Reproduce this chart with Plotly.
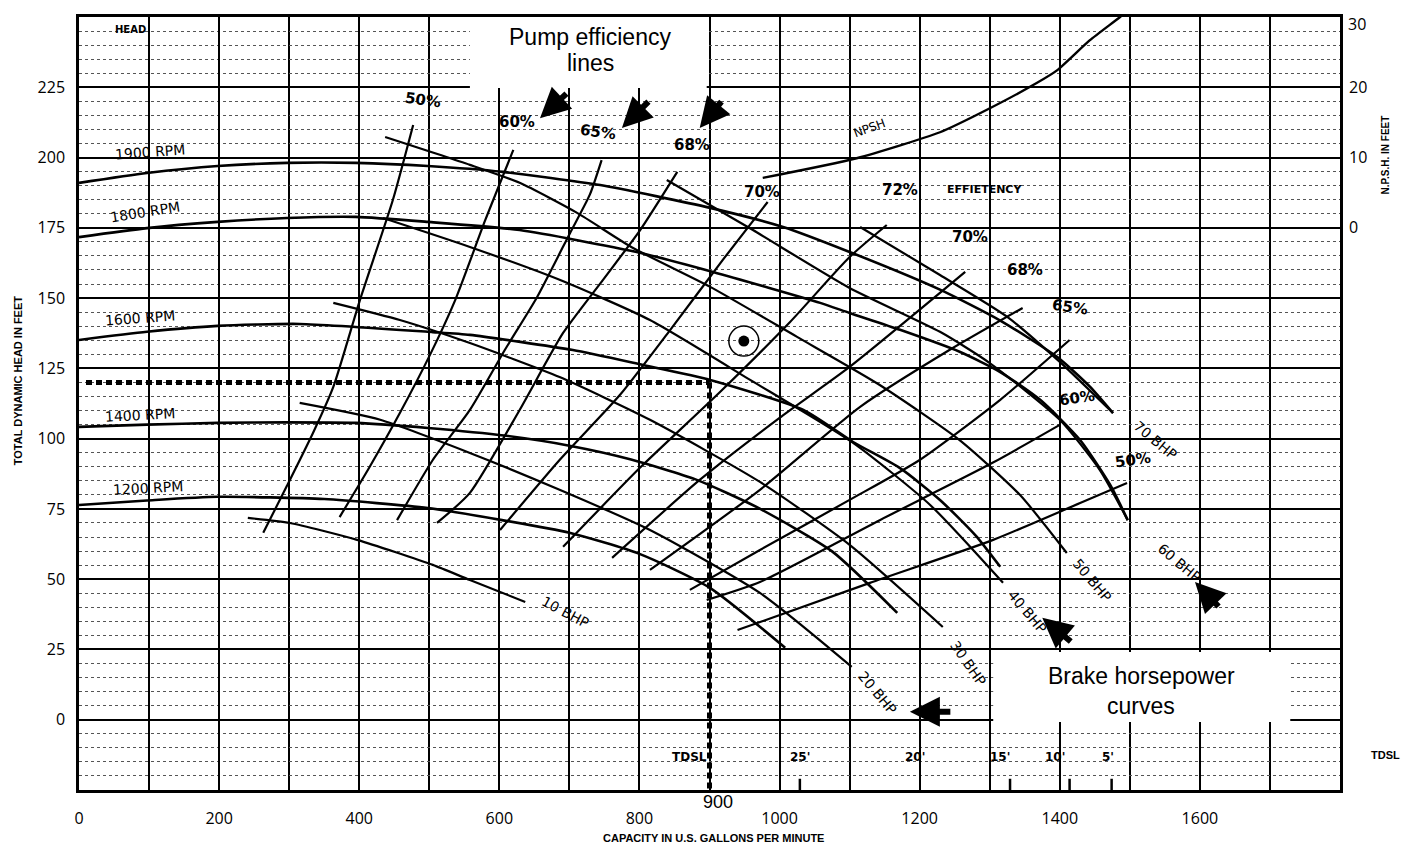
import plotly.graph_objects as go

# ---------------- data (capacity in gpm, head in ft) ----------------
q_1900 = [0, 97, 198, 297, 395, 498, 605, 744, 901, 1005, 1100, 1229, 1315, 1396, 1443, 1476]
h_1900 = [191.0, 194.5, 197.0, 198.1, 198.1, 197.0, 194.9, 190.2, 182.1, 175.3, 166.4, 153.0, 142.0, 129.1, 118.5, 109.1]
q_1800 = [0, 97, 198, 297, 395, 498, 629, 796, 905, 1058, 1100, 1172, 1257, 1315, 1372, 1429, 1472, 1497]
h_1800 = [171.7, 174.9, 177.1, 178.5, 178.9, 177.1, 174.2, 166.4, 159.3, 148.3, 144.7, 138.7, 130.9, 123.7, 113.8, 99.5, 83.5, 71.0]
q_1600 = [0, 97, 198, 315, 505, 558, 705, 805, 901, 1034, 1105, 1172, 1229, 1280, 1315]
h_1600 = [135.1, 138.0, 140.1, 140.8, 137.9, 136.9, 131.5, 126.2, 120.9, 110.2, 98.8, 89.5, 78.2, 65.5, 54.4]
q_1400 = [0, 97, 198, 297, 395, 498, 610, 700, 788, 880, 967, 1075, 1168]
h_1400 = [104.2, 105.0, 105.6, 105.8, 105.6, 103.8, 101.0, 97.5, 92.6, 85.5, 75.7, 59.9, 38.0]
q_1200 = [0, 97, 198, 350, 498, 604, 700, 800, 900, 1008]
h_1200 = [76.4, 78.0, 79.3, 78.5, 75.3, 71.0, 66.5, 59.0, 47.0, 25.6]

rpm_labels = ["1900 RPM", "1800 RPM", "1600 RPM", "1400 RPM", "1200 RPM"]

# efficiency lines
eff50_q = [263, 297, 334, 363, 401, 448, 477]
eff50_h = [66.5, 83.3, 102.0, 118.4, 149.3, 184.9, 211.6]
eff60_q = [372, 415, 458, 501, 537, 580, 620]
eff60_h = [72.1, 90.0, 109.1, 129.8, 149.3, 177.8, 202.7]
eff65_q = [454, 505, 558, 608, 654, 701, 729, 746]
eff65_h = [71.0, 92.4, 110.2, 131.6, 150.4, 173.2, 186.7, 199.1]
eff68_q = [511, 558, 629, 691, 748, 801, 854]
eff68_h = [70.0, 80.7, 110.2, 137.6, 156.5, 174.2, 194.9]
eff70_q = [601, 686, 772, 844, 919, 983]
eff70_h = [67.5, 92.4, 115.5, 138.7, 163.6, 184.2]
eff72_q = [691, 801, 915, 1015, 1100, 1153]
eff72_h = [61.5, 89.7, 116.6, 141.5, 164.6, 176.0]
eff70r_q = [761, 886, 1000, 1100, 1265]
eff70r_h = [57.6, 85.3, 107.4, 125.5, 159.3]
eff68r_q = [815, 972, 1115, 1243, 1347]
eff68r_h = [53.3, 81.8, 111.3, 131.6, 146.5]
eff65r_q = [872, 972, 1100, 1200, 1315, 1414]
eff65r_h = [46.2, 60.4, 78.2, 92.4, 113.8, 135.1]
eff60r_q = [896, 972, 1143, 1304, 1400]
eff60r_h = [42.6, 49.0, 71.0, 91.4, 104.9]
eff50r_q = [940, 1129, 1304, 1429, 1496]
eff50r_h = [31.9, 48.7, 63.9, 77.1, 84.2]

# brake horsepower lines
bhp10_q = [241, 301, 397, 505, 558, 637]
bhp10_h = [71.8, 70.0, 64.0, 55.1, 49.7, 41.9]
bhp20_q = [315, 430, 558, 686, 815, 972, 1103]
bhp20_h = [112.7, 106.7, 94.9, 81.8, 67.5, 45.1, 18.8]
bhp30_q = [363, 458, 558, 686, 815, 972, 1100, 1233]
bhp30_h = [148.3, 142.2, 134.0, 121.9, 106.7, 84.6, 62.2, 33.0]
bhp40_q = [434, 558, 686, 815, 958, 1105, 1215, 1319]
bhp40_h = [178.5, 168.2, 156.5, 142.2, 120.9, 98.5, 76.4, 48.7]
bhp50_q = [437, 558, 629, 711, 791, 901, 1025, 1143, 1257, 1343, 1410]
bhp50_h = [207.3, 197.4, 191.0, 180.3, 167.8, 154.0, 136.2, 119.1, 99.5, 80.0, 59.3]
bhp60_q = [839, 962, 1100, 1229, 1300, 1400, 1457, 1497]
bhp60_h = [192.0, 174.2, 153.6, 138.0, 126.9, 106.7, 88.9, 71.0]
bhp70_q = [1115, 1229, 1325, 1400, 1476]
bhp70_h = [175.3, 158.2, 143.3, 127.3, 109.1]

# NPSH curve (right axis, ft)
npsh_q = [976, 1110, 1229, 1296, 1367, 1396, 1443, 1486, 1510]
npsh_ft = [7.1, 9.9, 13.6, 16.8, 20.6, 22.4, 26.7, 30.0, 32.0]

# operating point / design duty
duty_q, duty_h = 900, 120
point_q, point_h = 949, 134.7

x_ticks = [0, 200, 400, 600, 800, 1000, 1200, 1400, 1600]
y_ticks = [0, 25, 50, 75, 100, 125, 150, 175, 200, 225]
npsh_ticks = [0, 10, 20]
npsh_top_tick = 30

tdsl_labels = ["TDSL", "25'", "20'", "15'", "10'", "5'"]
tdsl_q = [872, 1029, 1193, 1315, 1393, 1469]
tdsl_tick_q = [1029, 1329, 1414, 1474]

# ---------------- figure ----------------
fig = go.Figure()


def add_line(q, h, width=2.4, yaxis="y"):
    fig.add_trace(go.Scatter(x=q, y=h, mode="lines", yaxis=yaxis,
                             line=dict(color="black", width=width, shape="spline", smoothing=0.6),
                             hoverinfo="skip", showlegend=False))


for q, h in [(q_1900, h_1900), (q_1800, h_1800), (q_1600, h_1600), (q_1400, h_1400), (q_1200, h_1200)]:
    add_line(q, h, 2.6)

for q, h in [(eff50_q, eff50_h), (eff60_q, eff60_h), (eff65_q, eff65_h), (eff68_q, eff68_h),
             (eff70_q, eff70_h), (eff72_q, eff72_h), (eff70r_q, eff70r_h), (eff68r_q, eff68r_h),
             (eff65r_q, eff65r_h), (eff60r_q, eff60r_h), (eff50r_q, eff50r_h)]:
    add_line(q, h, 2.2)

for q, h in [(bhp10_q, bhp10_h), (bhp20_q, bhp20_h), (bhp30_q, bhp30_h), (bhp40_q, bhp40_h),
             (bhp50_q, bhp50_h), (bhp60_q, bhp60_h), (bhp70_q, bhp70_h)]:
    add_line(q, h, 2.2)

add_line(npsh_q, npsh_ft, 2.4, yaxis="y2")

# dotted design lines
fig.add_trace(go.Scatter(x=[10, duty_q], y=[duty_h, duty_h], mode="lines",
                         line=dict(color="black", width=5, dash="6px,4px"),
                         hoverinfo="skip", showlegend=False))
fig.add_trace(go.Scatter(x=[duty_q, duty_q], y=[duty_h, -25], mode="lines",
                         line=dict(color="black", width=5, dash="6px,4px"),
                         hoverinfo="skip", showlegend=False))

# operating point (circle with dot)
fig.add_trace(go.Scatter(x=[point_q], y=[point_h], mode="markers",
                         marker=dict(symbol="circle-open", size=30, color="black", line=dict(width=1.5)),
                         hoverinfo="skip", showlegend=False))
fig.add_trace(go.Scatter(x=[point_q], y=[point_h], mode="markers",
                         marker=dict(symbol="circle", size=11, color="black"),
                         hoverinfo="skip", showlegend=False))

# TDSL small tick marks
for tq in tdsl_tick_q:
    fig.add_trace(go.Scatter(x=[tq, tq], y=[-25, -21], mode="lines",
                             line=dict(color="black", width=2.5), hoverinfo="skip", showlegend=False))

HAND = "DejaVu Sans"
ann = []


def txt(x, y, s, size=14, angle=0, xref="x", yref="y", weight="normal", family=HAND, **kw):
    d = dict(x=x, y=y, text=s, xref=xref, yref=yref, showarrow=False, textangle=angle,
             xanchor="center", yanchor="middle",
             font=dict(family=family, size=size, color="black", weight=weight))
    d.update(kw)
    ann.append(d)


# RPM labels
txt(101, 202, rpm_labels[0], 14, -4)
txt(94, 180.6, rpm_labels[1], 14, -9)
txt(87, 142.9, rpm_labels[2], 14, -4)
txt(87, 108.4, rpm_labels[3], 14, -3)
txt(98, 82.5, rpm_labels[4], 14, -3)
txt(73, 245.4, "HEAD", 10, 0, weight="bold")

# efficiency labels
for x, y, s, a in [(491, 220.5, "50%", 8), (625, 212.7, "60%", 0), (741, 209.1, "65%", 8),
                   (875, 204.5, "68%", 0), (975, 187.8, "70%", 0), (1172, 188.5, "72%", 0),
                   (1272, 171.7, "70%", 0), (1350, 160.0, "68%", 0), (1414, 146.8, "65%", 8),
                   (1424, 114.5, "60%", -8), (1504, 92.4, "50%", -8)]:
    txt(x, y, s, 15, a, weight="bold")
txt(1293, 188.5, "EFFIETENCY", 11, 0, weight="bold")
txt(1129, 210.5, "NPSH", 12, -20)

# BHP labels
for x, y, s, a in [(694, 38.4, "10 BHP", 28), (1140, 9.5, "20 BHP", 50), (1269, 20.2, "30 BHP", 55),
                   (1354, 38.4, "40 BHP", 50), (1446, 49.7, "50 BHP", 50), (1571, 55.8, "60 BHP", 40),
                   (1536, 99.5, "70 BHP", 40)]:
    txt(x, y, s, 14, a)

# TDSL row
for q, s in zip(tdsl_q, tdsl_labels):
    txt(q, -13.2, s, 12, 0, weight="bold")
txt(1.0357, -12.5, "TDSL", 11, 0, xref="paper", yref="y", weight="bold", family="Liberation Sans")

# callout boxes text
txt(730, 243, "Pump efficiency", 23, 0, family="Liberation Sans")
txt(730, 233.5, "lines", 23, 0, family="Liberation Sans")
txt(1516, 15.5, "Brake horsepower", 23, 0, family="Liberation Sans")
txt(1516, 5.0, "curves", 23, 0, family="Liberation Sans")

# top NPSH tick label (kept inside the page)
txt(1.0, npsh_top_tick, str(npsh_top_tick), 16, 0, xref="paper", yref="y2",
    family="Open Sans", xanchor="left", yanchor="top", xshift=6, yshift=6)

# 900 label and axis titles
txt(912, -0.0155, "900", 18, 0, yref="paper", family="Liberation Sans")
txt(-0.0484, 0.53, "TOTAL DYNAMIC HEAD IN FEET", 11, -90, xref="paper", yref="paper",
    weight="bold", family="Liberation Sans")
txt(0.503, -0.062, "CAPACITY IN U.S. GALLONS PER MINUTE", 11, 0, xref="paper", yref="paper",
    weight="bold", family="Liberation Sans")
txt(1.0357, 0.821, "N.P.S.H. IN FEET", 10, -90, xref="paper", yref="paper",
    weight="bold", family="Liberation Sans")

# arrows
for x, y, ax, ay in [(658, 214, 28, -26), (775, 210.5, 28, -28), (886, 210.5, 23, -28),
                     (1186, 2.8, 42, 0), (1375, 36.3, 30, 25), (1593, 49, 25, 26)]:
    ann.append(dict(x=x, y=y, xref="x", yref="y", ax=ax, ay=ay, showarrow=True,
                    arrowhead=2, arrowsize=1.0, arrowwidth=6, arrowcolor="black", text=""))

shapes = [
    dict(type="rect", xref="x", yref="y", x0=558, x1=896, y0=224.7, y1=250,
         fillcolor="white", line=dict(width=0), layer="above"),
    dict(type="rect", xref="x", yref="y", x0=1305, x1=1729, y0=-0.8, y1=24.1,
         fillcolor="white", line=dict(width=0), layer="above"),
]

# margins compensate the page's default 8px body offset
TICKFONT = dict(family="Open Sans", size=16, color="black")
fig.update_layout(
    width=1410, height=848,
    margin=dict(l=71, r=78, t=9, b=66, autoexpand=False),
    paper_bgcolor="white", plot_bgcolor="white",
    showlegend=False,
    annotations=ann, shapes=shapes,
    xaxis=dict(range=[0, 1800], tickvals=x_ticks, showgrid=True, gridcolor="black", gridwidth=1.6,
               minor=dict(dtick=100, tick0=0, showgrid=True, gridcolor="black", gridwidth=1.6),
               zeroline=False, showline=True, mirror=True, linecolor="black", linewidth=2.5,
               ticks="", tickfont=TICKFONT, ticklabelstandoff=12, automargin=False),
    yaxis=dict(range=[-25, 250], tickvals=y_ticks, showgrid=True, gridcolor="black", gridwidth=1.6,
               minor=dict(dtick=5, tick0=0, showgrid=True, gridcolor="#555", gridwidth=1, griddash="dot"),
               zeroline=False, showline=True, mirror=True, linecolor="black", linewidth=2.5,
               ticks="", tickfont=TICKFONT, ticklabelstandoff=8, automargin=False),
    yaxis2=dict(range=[-80, 30], overlaying="y", side="right", tickvals=npsh_ticks, showgrid=False,
                zeroline=False, showline=False, ticks="", tickfont=TICKFONT, ticklabelstandoff=8,
                automargin=False),
)

fig.write_html("out.html")
